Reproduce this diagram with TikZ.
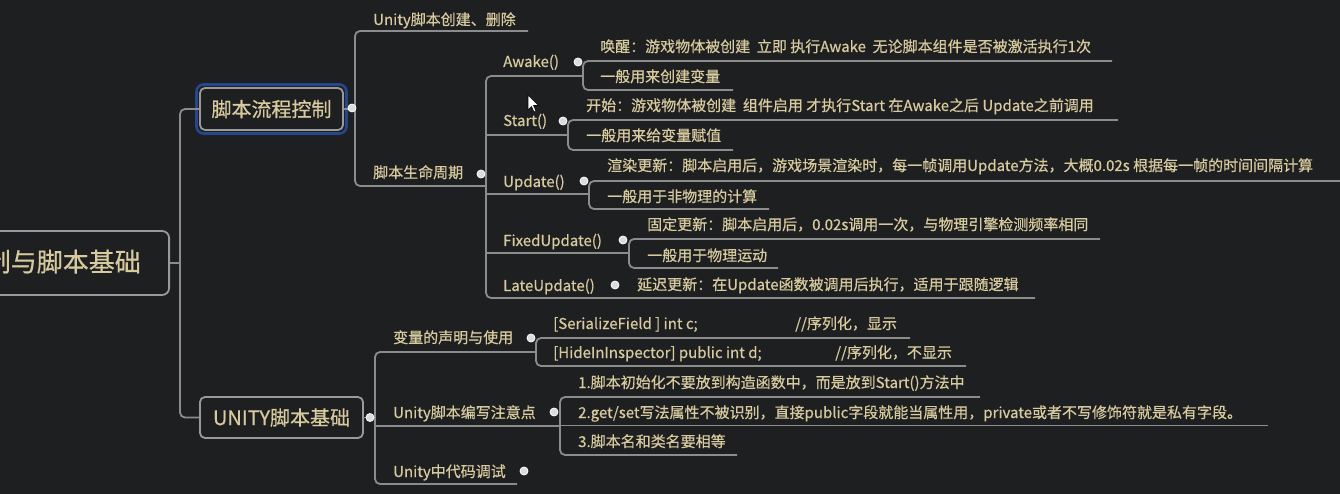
\documentclass[tikz,border=0pt]{standalone}
\usepackage{fontspec}
\setmainfont[FakeBold=0.5]{Noto Sans CJK SC}
\definecolor{bg}{HTML}{1E1F21}
\definecolor{ln}{HTML}{8C8C8C}
\definecolor{bx}{HTML}{9A9A9A}
\definecolor{tx}{HTML}{D8CA9F}
\definecolor{sel}{HTML}{26478E}
\definecolor{dotc}{HTML}{DCDCDC}
\tikzset{
  conn/.style={draw=ln, line width=1.8pt, rounded corners=5pt},
  lbl/.style={text=tx, font=\fontsize{15}{18}\selectfont, inner sep=0pt, anchor=west, text height=12pt, text depth=2pt},
  mainbox/.style={draw=bx, line width=1.8pt, rounded corners=5pt, text=tx, font=\fontsize{20}{24}\selectfont, inner sep=0pt},
  dotn/.style={circle, fill=dotc, draw=white, line width=0.8pt, minimum size=8pt, inner sep=0pt},
}
\begin{document}
\begin{tikzpicture}[x=1pt,y=-1pt]
\useasboundingbox (0,0) rectangle (1340,494);
\fill[bg] (0,0) rectangle (1340,494);
\begin{scope}
\clip (0,0) rectangle (1340,494);
% root
\node[draw=bx, line width=1.8pt, rounded corners=7pt, minimum width=260pt, minimum height=64pt, anchor=east, inner sep=0pt] (root) at (170,263) {};
\node[text=tx, font=\fontsize{26}{30}\selectfont, inner sep=0pt, anchor=east, text height=20pt, text depth=3pt] (roottxt) at (141,263) {控制与脚本基础};

% main topics
\draw[sel, line width=2.6pt, rounded corners=7pt] (196.5,84.5) rectangle (346.5,133.5);
\node[mainbox, minimum width=143pt, minimum height=42pt] (flow) at (271.5,109) {脚本流程控制};
\node[mainbox, minimum width=163pt, minimum height=41pt] (base) at (281.5,417.5) {UNITY脚本基础};

\draw[conn] (root.east) -- (180,263);
\draw[conn] (flow.west) -| (180,300) |- (base.west);

% flow children
\draw[conn] (flow.east) -- (355,109);
\draw[conn] (528,31) -| (355,120) |- (486,186);
\node[lbl] (create) at (373,20) {Unity脚本创建、删除};
\node[lbl] (life) at (373,173) {脚本生命周期};

% lifecycle bracket
\draw[conn] (583,76) -| (486,186) |- (1035,298);
\draw[conn] (486,135) -- (568,135);
\draw[conn] (486,194) -- (589,194);
\draw[conn] (486,253) -- (629,253);

\node[lbl] (awake) at (503,62) {Awake()};
\node[lbl] (start) at (503,121) {Start()};
\node[lbl] (update) at (503,182) {Update()};
\node[lbl] (fixed) at (503,241) {FixedUpdate()};
\node[lbl] (late) at (503,286) {LateUpdate()};

% Awake
\draw[conn] (1112,61) -| (583,90) -- (733,90);
\node[lbl] (aw1) at (600,47) {唤醒：游戏物体被创建~~立即 执行Awake~~无论脚本组件是否被激活执行1次};
\node[lbl] (aw2) at (600,77) {一般用来创建变量};
% Start
\draw[conn] (1118,120) -| (568,150) -- (733,150);
\node[lbl] (st1) at (586,106) {开始：游戏物体被创建~~组件启用 才执行Start 在Awake之后 Update之前调用};
\node[lbl] (st2) at (586,136) {一般用来给变量赋值};
% Update
\draw[conn] (1340,181) -| (589,209) -- (769,209);
\node[lbl] (up1) at (607,166) {渲染更新：脚本启用后，游戏场景渲染时，每一帧调用Update方法，大概0.02s 根据每一帧的时间间隔计算};
\node[lbl] (up2) at (607,197) {一般用于非物理的计算};
% FixedUpdate
\draw[conn] (1100,239) -| (629,268) -- (778,268);
\node[lbl] (fx1) at (647,225) {固定更新：脚本启用后，0.02s调用一次，与物理引擎检测频率相同};
\node[lbl] (fx2) at (647,256) {一般用于物理运动};
% LateUpdate
\node[lbl] (lt1) at (637,285) {延迟更新：在Update函数被调用后执行，适用于跟随逻辑};

% base children
\draw[conn] (base.east) -- (375,417.5);
\draw[conn] (535,352) -| (375,420) |- (517,484);
\draw[conn] (375,426) -- (560,426);
\node[lbl] (var) at (393,338) {变量的声明与使用};
\node[lbl] (note) at (393,413) {Unity脚本编写注意点};
\node[lbl] (debug) at (393,472) {Unity中代码调试};

\draw[conn] (910,338) -| (536,366) -- (966,366);
\node[lbl] (v1) at (553,324) {\makebox[242pt][l]{[SerializeField ] int c;}//序列化，显示};
\node[lbl] (v2) at (553,353) {\makebox[282pt][l]{[HideInInspector] public int d;}//序列化，不显示};

\draw[conn] (980,397) -| (560,455) -- (737,455);
\draw[conn] (560,425.5) -- (1268,425.5);
\node[lbl] (n1) at (578,383) {1.脚本初始化不要放到构造函数中，而是放到Start()方法中};
\node[lbl] (n2) at (578,413) {2.get/set写法属性不被识别，直接public字段就能当属性用，private或者不写修饰符就是私有字段。};
\node[lbl] (n3) at (578,442) {3.脚本名和类名要相等};

% dots
\node[dotn] (d1) at (352,108) {};
\node[dotn] (d2) at (370,417.5) {};
\node[dotn] (d3) at (481,174) {};
\node[dotn] (d4) at (578,62) {};
\node[dotn] (d5) at (563,121) {};
\node[dotn] (d6) at (584,181) {};
\node[dotn] (d7) at (623,240) {};
\node[dotn] (d8) at (615,285) {};
\node[dotn] (d9) at (531,338) {};
\node[dotn] (d10) at (554,412) {};
\node[dotn] (d11) at (524,471) {};

% mouse cursor
\draw[black, fill=white, line width=0.6pt, line join=round]
  (528,95) -- (528,110) -- (531.5,106.5) -- (534,112) -- (536,111) -- (533.5,105.5) -- (538.5,105.5) -- cycle;
\end{scope}
\end{tikzpicture}
\end{document}
